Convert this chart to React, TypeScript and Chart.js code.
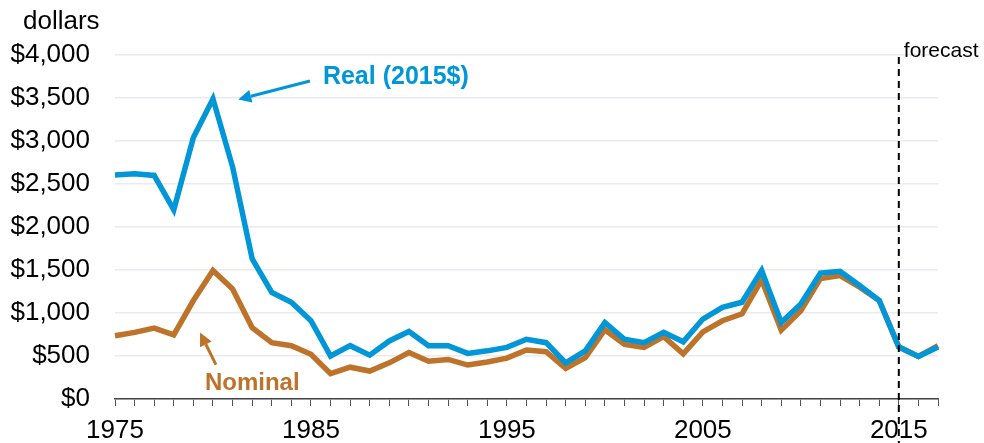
import React, { useEffect, useRef } from 'react';
import { Chart, registerables } from 'chart.js';

Chart.register(...registerables);

const years = [
  '1975','1976','1977','1978','1979','1980','1981','1982','1983','1984',
  '1985','1986','1987','1988','1989','1990','1991','1992','1993','1994',
  '1995','1996','1997','1998','1999','2000','2001','2002','2003','2004',
  '2005','2006','2007','2008','2009','2010','2011','2012','2013','2014',
  '2015','2016','2017',
];

const realValues = [
  2605, 2620, 2600, 2200, 3040, 3490, 2700, 1630, 1240, 1125,
  910, 500, 620, 510, 675, 785, 620, 620, 530, 560,
  600, 695, 655, 420, 560, 890, 695, 655, 775, 665,
  930, 1065, 1125, 1495, 890, 1105, 1465, 1485, 1320, 1145,
  605, 495, 605,
];

const nominalValues = [
  735, 775, 825, 745, 1145, 1495, 1280, 830, 655, 620,
  520, 295, 370, 325, 420, 540, 440, 460, 395, 430,
  475, 570, 550, 355, 480, 805, 635, 600, 725, 525,
  780, 910, 990, 1385, 800, 1025, 1400, 1435, 1300, 1145,
  605, 495, 620,
];

const labeledYears = ['1975', '1985', '1995', '2005', '2015'];
const yMin = 0;
const yMax = 4000;
const yStep = 500;
const forecastYear = '2015';

const BLUE = '#0096D7';
const ORANGE = '#BD732A';
const FONT = "Arial, 'Liberation Sans', sans-serif";

// annotation anchors in data units (year index offset, value)
const realLabel = { x: 10.61, y: 3740, text: 'Real (2015$)' };
const realArrow = { fromX: 9.95, fromY: 3697, toX: 6.29, toY: 3483 };
const nominalLabel = { x: 4.59, y: 177, text: 'Nominal' };
const nominalArrow = { fromX: 5.15, fromY: 399, toX: 4.34, toY: 772 };

function drawArrow(ctx: CanvasRenderingContext2D, x1: number, y1: number, x2: number, y2: number, color: string) {
  const ang = Math.atan2(y2 - y1, x2 - x1);
  const head = 13;
  const half = 6.5;
  const bx = x2 - head * Math.cos(ang);
  const by = y2 - head * Math.sin(ang);
  ctx.save();
  ctx.strokeStyle = color;
  ctx.fillStyle = color;
  ctx.lineWidth = 3;
  ctx.beginPath();
  ctx.moveTo(x1, y1);
  ctx.lineTo(bx, by);
  ctx.stroke();
  ctx.beginPath();
  ctx.moveTo(x2, y2);
  ctx.lineTo(bx + half * Math.sin(ang), by - half * Math.cos(ang));
  ctx.lineTo(bx - half * Math.sin(ang), by + half * Math.cos(ang));
  ctx.closePath();
  ctx.fill();
  ctx.restore();
}

const annotationPlugin = {
  id: 'annotations',
  afterDatasetsDraw(chart: any) {
    const ctx: CanvasRenderingContext2D = chart.ctx;
    const xs = chart.scales.x;
    const ys = chart.scales.y;
    const area = chart.chartArea;

    // forecast dashed line
    const fx = xs.getPixelForValue(years.indexOf(forecastYear));
    ctx.save();
    ctx.strokeStyle = '#000';
    ctx.lineWidth = 2;
    ctx.setLineDash([7, 5]);
    ctx.beginPath();
    ctx.moveTo(fx, area.top + 2);
    ctx.lineTo(fx, chart.height);
    ctx.stroke();
    ctx.restore();

    ctx.save();
    ctx.fillStyle = '#000';
    ctx.font = `21px ${FONT}`;
    ctx.textAlign = 'left';
    ctx.textBaseline = 'middle';
    ctx.fillText('forecast', fx + 5, area.top - 4);

    // axis title
    ctx.font = `26px ${FONT}`;
    ctx.fillText('dollars', 23, 22);

    // series labels
    ctx.font = `bold 25px ${FONT}`;
    ctx.fillStyle = BLUE;
    ctx.fillText(realLabel.text, xs.getPixelForValue(realLabel.x), ys.getPixelForValue(realLabel.y));
    ctx.font = `bold 24px ${FONT}`;
    ctx.fillStyle = ORANGE;
    ctx.fillText(nominalLabel.text, xs.getPixelForValue(nominalLabel.x), ys.getPixelForValue(nominalLabel.y));
    ctx.restore();

    drawArrow(ctx,
      xs.getPixelForValue(realArrow.fromX), ys.getPixelForValue(realArrow.fromY),
      xs.getPixelForValue(realArrow.toX), ys.getPixelForValue(realArrow.toY), BLUE);
    drawArrow(ctx,
      xs.getPixelForValue(nominalArrow.fromX), ys.getPixelForValue(nominalArrow.fromY),
      xs.getPixelForValue(nominalArrow.toX), ys.getPixelForValue(nominalArrow.toY), ORANGE);
  },
};

export default function App() {
  const canvasRef = useRef<HTMLCanvasElement | null>(null);

  useEffect(() => {
    document.body.style.margin = '0';
    const canvas = canvasRef.current;
    if (!canvas) return;
    const chart = new Chart(canvas, {
      type: 'line',
      data: {
        labels: years,
        datasets: [
          {
            label: 'Real (2015$)',
            data: realValues,
            borderColor: BLUE,
            backgroundColor: BLUE,
            borderWidth: 5.5,
            pointRadius: 0,
            tension: 0,
            fill: false,
          },
          {
            label: 'Nominal',
            data: nominalValues,
            borderColor: ORANGE,
            backgroundColor: ORANGE,
            borderWidth: 5.5,
            pointRadius: 0,
            tension: 0,
            fill: false,
          },
        ],
      },
      options: {
        responsive: false,
        animation: false,
        layout: { padding: { top: 55, right: 46, left: 0, bottom: 0 } },
        plugins: {
          legend: { display: false },
          tooltip: { enabled: false },
          title: { display: false },
        },
        scales: {
          x: {
            type: 'category',
            offset: false,
            grid: {
              display: true,
              drawOnChartArea: false,
              drawTicks: true,
              tickLength: 7,
              color: '#555',
              lineWidth: 1,
              offset: false,
            },
            border: { display: true, color: '#444', width: 1.5 },
            ticks: {
              autoSkip: false,
              maxRotation: 0,
              minRotation: 0,
              padding: 9,
              color: '#000',
              font: { family: FONT, size: 26 },
              callback: (_v: any, i: number) => (labeledYears.includes(years[i]) ? years[i] : ''),
            },
            afterFit: (scale: any) => { scale.height = 44; },
          },
          y: {
            min: yMin,
            max: yMax,
            grid: {
              color: '#EAEAF0',
              lineWidth: 1.5,
              drawTicks: false,
            },
            border: { display: false },
            ticks: {
              stepSize: yStep,
              padding: 25,
              color: '#000',
              font: { family: FONT, size: 26 },
              callback: (v: any) => '$' + Number(v).toLocaleString('en-US'),
            },
            afterFit: (scale: any) => { scale.width = 115; },
          },
        },
      },
      plugins: [annotationPlugin],
    });
    return () => chart.destroy();
  }, []);

  return (
    <div style={{ position: 'fixed', left: 0, top: 0, width: 984, height: 443, background: '#fff' }}>
      <canvas ref={canvasRef} width={984} height={443} style={{ width: 984, height: 443, display: 'block' }} />
    </div>
  );
}
